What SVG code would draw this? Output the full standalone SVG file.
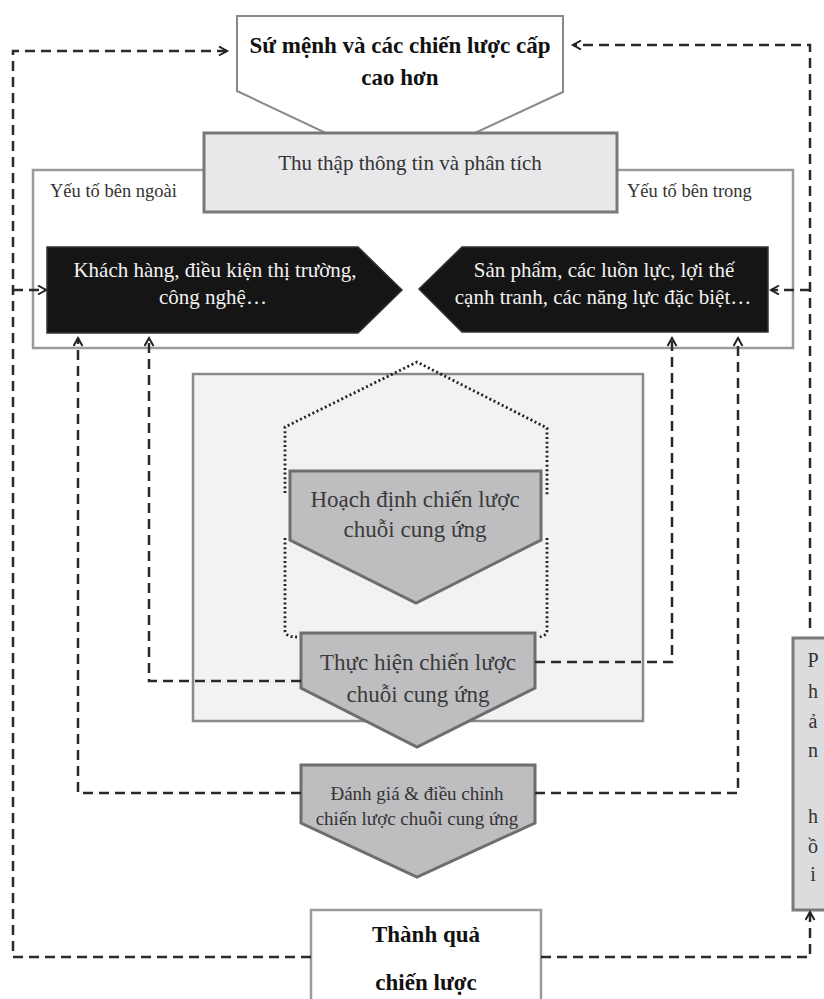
<svg xmlns="http://www.w3.org/2000/svg" width="824" height="999" viewBox="0 0 824 999" font-family="'Liberation Serif', 'DejaVu Serif', serif">
<defs>
<marker id="arr" markerUnits="userSpaceOnUse" markerWidth="14" markerHeight="14" refX="9" refY="5" orient="auto">
<path d="M1,0.5 L9,5 L1,9.5" fill="none" stroke="#222" stroke-width="2"/>
</marker>
</defs>
<style>
text{font-family:'Liberation Serif','DejaVu Serif',serif;text-anchor:middle}
.b{font-weight:bold;fill:#111}
.lbl{font-size:18.5px;fill:#333;text-anchor:start}
.wt{fill:#f2f2f2;font-size:21px}
.gt{fill:#3a3a3a;font-size:23px}
.conn{fill:none;stroke:#2a2a2a;stroke-width:2.5;stroke-dasharray:10 6}
.pent{fill:#bebec1;stroke:#6e6e6e;stroke-width:3}
</style>
<rect width="824" height="999" fill="#ffffff"/>

<g id="outer">
<rect x="33" y="170" width="760" height="178" fill="#ffffff" stroke="#9a9a9a" stroke-width="2.5"/>
<text class="lbl" x="50" y="197" font-family="Liberation Serif">Yếu tố bên ngoài</text>
<text class="lbl" x="627" y="197" font-family="Liberation Serif">Yếu tố bên trong</text>
</g>

<g id="su-menh">
<path d="M237,16 H563 V92 L400,168 L237,91 Z" fill="#ffffff" stroke="#8a8a8a" stroke-width="2"/>
<text class="b" x="400" y="53" font-size="23">Sứ mệnh và các chiến lược cấp</text>
<text class="b" x="400" y="85" font-size="23">cao hơn</text>
</g>

<g id="thu-thap">
<rect x="204" y="133" width="413" height="79" fill="#e8e8ea" stroke="#787878" stroke-width="3"/>
<text x="410" y="170" font-size="21" fill="#333">Thu thập thông tin và phân tích</text>
</g>

<g id="ben-ngoai">
<path d="M47,247 H358 L402,290 L358,333 H47 Z" fill="#151515" stroke="#333" stroke-width="1.5"/>
<text class="wt" x="215" y="277">Khách hàng, điều kiện thị trường,</text>
<text class="wt" x="213" y="304">công nghệ…</text>
</g>

<g id="ben-trong">
<path d="M768,247 H462 L419,289 L462,332 H768 Z" fill="#151515" stroke="#333" stroke-width="1.5"/>
<text class="wt" x="604" y="277">Sản phẩm, các luồn lực, lợi thế</text>
<text class="wt" x="603" y="304">cạnh tranh, các năng lực đặc biệt…</text>
</g>

<g id="trien-khai">
<rect x="193" y="374" width="450" height="347" fill="#f2f2f4" stroke="#8a8a8a" stroke-width="2.5"/>
<path d="M285,493 V427 L417,362 L547,428 V495 M285,538 V630 Q285,637 297,637 M547,538 V630 Q547,637 537,637" fill="none" stroke="#222" stroke-width="2.8" stroke-dasharray="2 2.6"/>
</g>

<g id="hoach-dinh">
<path class="pent" d="M290,471 H541 V540 L416,603 L290,540 Z"/>
<text class="gt" x="415" y="507">Hoạch định chiến lược</text>
<text class="gt" x="415" y="537">chuỗi cung ứng</text>
</g>

<g id="thuc-hien">
<path class="pent" d="M301,633 H535 V688 L417,747 L301,688 Z"/>
<text class="gt" x="418" y="670">Thực hiện chiến lược</text>
<text class="gt" x="418" y="702">chuỗi cung ứng</text>
</g>

<g id="danh-gia">
<path class="pent" d="M301,765 H535 V823 L417,877 L301,823 Z"/>
<text x="417" y="800" font-size="19" fill="#333">Đánh giá &amp; điều chỉnh</text>
<text x="417" y="825" font-size="19" fill="#333">chiến lược chuỗi cung ứng</text>
</g>

<g id="thanh-qua">
<rect x="311" y="910" width="230" height="100" fill="#ffffff" stroke="#9a9a9a" stroke-width="2.5"/>
<text class="b" x="426" y="942" font-size="23">Thành quả</text>
<text class="b" x="426" y="990" font-size="23">chiến lược</text>
</g>

<g id="phan-hoi">
<rect x="793" y="638" width="40" height="272" fill="#dcdcde" stroke="#7a7a7a" stroke-width="3"/>
<g font-size="20" fill="#333">
<text x="813" y="667">P</text>
<text x="813" y="698">h</text>
<text x="813" y="728">ả</text>
<text x="813" y="757">n</text>
<text x="813" y="823">h</text>
<text x="813" y="853">ồ</text>
<text x="813" y="881">i</text>
</g>
</g>

<g id="connectors">
<path class="conn" d="M311,957 H13 V51 H227" marker-end="url(#arr)"/>
<path class="conn" d="M13,290 H46" marker-end="url(#arr)"/>
<path class="conn" d="M541,957 H810 V912" marker-end="url(#arr)"/>
<path class="conn" d="M810,628 V45 H573" marker-end="url(#arr)"/>
<path class="conn" d="M810,290 H771" marker-end="url(#arr)"/>
<path class="conn" d="M301,681 H149 V338" marker-end="url(#arr)"/>
<path class="conn" d="M535,662 H672 V338" marker-end="url(#arr)"/>
<path class="conn" d="M301,793 H78 V338" marker-end="url(#arr)"/>
<path class="conn" d="M535,793 H738 V338" marker-end="url(#arr)"/>
</g>
</svg>
